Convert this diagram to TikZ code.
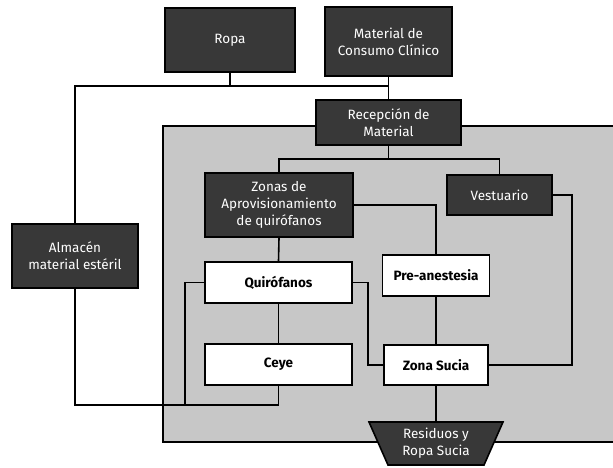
\documentclass[tikz,border=0pt]{standalone}
\usepackage{fontspec}
\setmainfont{Fira Sans}
\usetikzlibrary{shapes.geometric}

\begin{document}
\begin{tikzpicture}[x=1pt,y=-1pt,
  box/.style={draw=black, line width=1.6pt, align=center, inner sep=0pt,
    font=\fontsize{13.5}{17}\selectfont},
  darkbox/.style={box, fill=black!78, text=white},
  lightbox/.style={box, fill=white, font=\fontsize{13.5}{17}\selectfont\bfseries},
  link/.style={line width=1.6pt, line join=miter}]

\useasboundingbox (0,0) rectangle (613,468);

% shaded working area
\fill[black!22] (163,126) rectangle (614,442);
\draw[link] (614,126) -- (163,126) -- (163,442) -- (614,442);

% supply boxes
\node[darkbox, minimum width=130, minimum height=64] (ropa) at (230,40) {Ropa};
\node[darkbox, minimum width=127, minimum height=69] (material) at (388.5,41.5) {Material de\\Consumo Clínico};
\node[darkbox, minimum width=145, minimum height=45] (recepcion) at (388.5,122.5) {Recepción de\\Material};
\node[darkbox, minimum width=148, minimum height=64] (zonas) at (279,205) {Zonas de\\Aprovisionamiento\\de quirófanos};
\node[darkbox, minimum width=105, minimum height=40] (vestuario) at (499.5,195) {Vestuario};
\node[darkbox, minimum width=126, minimum height=64] (almacen) at (75,256) {Almacén\\material estéril};

% operating area
\node[lightbox, minimum width=147, minimum height=41] (quirofanos) at (278.5,282.5) {Quirófanos};
\node[lightbox, minimum width=147, minimum height=41] (ceye) at (278.5,364.5) {Ceye};
\node[lightbox, minimum width=107, minimum height=41] (pre) at (436,275.5) {Pre-anestesia};
\node[lightbox, minimum width=104, minimum height=40] (sucia) at (436,365) {Zona Sucia};

% waste outlet
\node[darkbox, trapezium, shape border rotate=180, trapezium left angle=58,
  trapezium right angle=58, trapezium stretches body,
  minimum width=134, minimum height=43] (residuos) at (436,443.5) {Residuos y\\Ropa Sucia};

% junction points
\coordinate (hub) at (388.5,86);
\coordinate (split) at (388.5,159);
\coordinate (lowbus) at (278.5,405);
\coordinate (lowleft) at (185,405);

% connectors
\draw[link] (material) -- (recepcion);
\draw[link] (ropa.south) |- (hub);
\draw[link] (hub) -| (almacen.north);
\draw[link] (almacen.south) |- (lowbus) -- (ceye.south);
\draw[link] (quirofanos.west) -| (lowleft);
\draw[link] (recepcion.south) -- (split);
\draw[link] (zonas.north) |- (split) -| (vestuario.north);
\draw[link] (zonas.east) -| (pre.north);
\draw[link] (zonas.south) -- (quirofanos.north);
\draw[link] (quirofanos.south) -- (ceye.north);
\draw[link] (pre.south) -- (sucia.north);
\draw[link] (quirofanos.east) -- ++(15,0) |- (sucia.west);
\draw[link] (vestuario.east) -- ++(19,0) |- (sucia.east);
\draw[link] (sucia.south) -- (residuos.north);

\end{tikzpicture}
\end{document}
